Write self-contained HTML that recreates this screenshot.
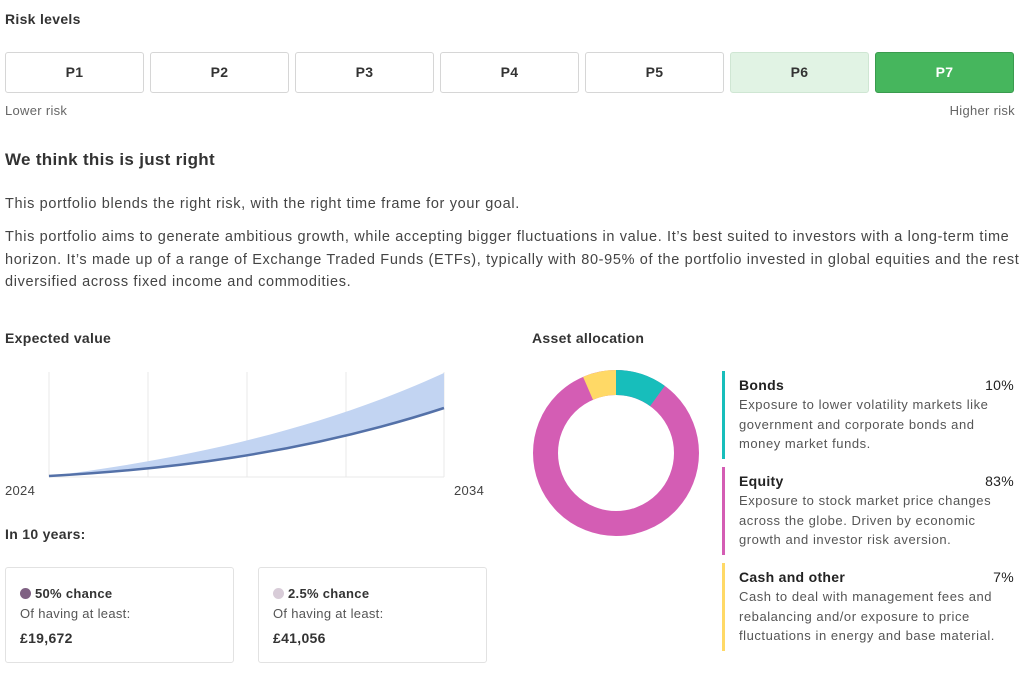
<!DOCTYPE html>
<html><head><meta charset="utf-8"><style>
*{margin:0;padding:0;box-sizing:border-box}
body{width:1024px;height:684px;background:#fff;font-family:"Liberation Sans",sans-serif;color:#333;position:relative;overflow:hidden;letter-spacing:0.3px}
.a{position:absolute;white-space:nowrap}
.btn{position:absolute;top:52px;width:139px;height:41px;border:1px solid #d6d6d6;border-radius:3px;text-align:center;line-height:39px;font-size:14px;font-weight:bold;color:#333}
.t{font-size:14.5px;color:#444;letter-spacing:0.65px}
.box{position:absolute;top:567px;width:229px;height:96px;border:1px solid #e2e2e2;border-radius:3px}
.dot{display:inline-block;width:11px;height:11px;border-radius:50%;margin-right:4px;vertical-align:-1px}
.leg{position:absolute;left:722px;width:300px;border-left:3px solid}
.leg h4{font-size:14px;font-weight:bold;color:#222;margin-left:14px;position:relative}
.leg h4 span{position:absolute;right:8px;font-weight:normal}
.leg p{font-size:13px;color:#555;line-height:19.5px;margin-left:14px;margin-top:2px;letter-spacing:0.55px}
</style></head><body>
<div class="a" style="left:5px;top:11px;font-size:14px;font-weight:bold;color:#333">Risk levels</div>
<div class="btn" style="left:5px">P1</div>
<div class="btn" style="left:150px">P2</div>
<div class="btn" style="left:295px">P3</div>
<div class="btn" style="left:440px">P4</div>
<div class="btn" style="left:585px">P5</div>
<div class="btn" style="left:730px;background:#e1f3e4;border-color:#cfe6d3">P6</div>
<div class="btn" style="left:875px;background:#46b65d;border-color:#3a9b4e;color:#fff">P7</div>
<div class="a" style="left:5px;top:103px;font-size:13px;color:#666">Lower risk</div>
<div class="a" style="right:9px;top:103px;font-size:13px;color:#666">Higher risk</div>
<div class="a" style="left:5px;top:150px;font-size:17px;font-weight:bold;color:#333">We think this is just right</div>
<div class="a t" style="left:5px;top:196px">This portfolio blends the right risk, with the right time frame for your goal.</div>
<div class="a t" style="left:5px;top:226px;line-height:22.5px">This portfolio aims to generate ambitious growth, while accepting bigger fluctuations in value. It’s best suited to investors with a long-term time<br>horizon. It’s made up of a range of Exchange Traded Funds (ETFs), typically with 80-95% of the portfolio invested in global equities and the rest<br>diversified across fixed income and commodities.</div>
<div class="a" style="left:5px;top:330px;font-size:14px;font-weight:bold">Expected value</div>
<div class="a" style="left:532px;top:330px;font-size:14px;font-weight:bold">Asset allocation</div>
<svg class="a" style="left:0;top:360px" width="500" height="130">
<g stroke="#e8e8e8" stroke-width="1"><line x1="49" y1="12" x2="49" y2="117"/><line x1="148" y1="12" x2="148" y2="117"/><line x1="247" y1="12" x2="247" y2="117"/><line x1="346" y1="12" x2="346" y2="117"/><line x1="444" y1="12" x2="444" y2="117"/><line x1="49" y1="117" x2="444" y2="117"/></g>
<path d="M49,116 C180,100 320,70 444,13 L444,48 C300,95 160,110 49,116 Z" fill="#c2d4f2"/>
<path d="M49,116 C160,110 300,95 444,48" fill="none" stroke="#5471a8" stroke-width="2.5"/>
</svg>
<div class="a" style="left:5px;top:483px;font-size:13px;color:#444">2024</div>
<div class="a" style="left:454px;top:483px;font-size:13px;color:#444">2034</div>
<div class="a" style="left:5px;top:526px;font-size:14px;font-weight:bold">In 10 years:</div>
<div class="box" style="left:5px"><div class="a" style="left:14px;top:18px;font-size:13px;font-weight:bold"><span class="dot" style="background:#7f6183"></span>50% chance</div><div class="a" style="left:14px;top:38px;font-size:13px;color:#555">Of having at least:</div><div class="a" style="left:14px;top:62px;font-size:14px;font-weight:bold">£19,672</div></div>
<div class="box" style="left:258px"><div class="a" style="left:14px;top:18px;font-size:13px;font-weight:bold"><span class="dot" style="background:#d8ccd8"></span>2.5% chance</div><div class="a" style="left:14px;top:38px;font-size:13px;color:#555">Of having at least:</div><div class="a" style="left:14px;top:62px;font-size:14px;font-weight:bold">£41,056</div></div>
<svg class="a" style="left:533px;top:370px" width="166" height="166">
<g transform="rotate(-90 83 83)" fill="none" stroke-width="25">
<circle cx="83" cy="83" r="70.5" stroke="#d45db4"/>
<circle cx="83" cy="83" r="70.5" stroke="#17bebb" stroke-dasharray="44.3 500"/>
<circle cx="83" cy="83" r="70.5" stroke="#ffd966" stroke-dasharray="0 414 31.5 500"/>
</g></svg>
<div class="leg" style="top:371px;height:88px;border-color:#17bebb"><h4 style="top:6px">Bonds<span>10%</span></h4><p style="margin-top:8px">Exposure to lower volatility markets like<br>government and corporate bonds and<br>money market funds.</p></div>
<div class="leg" style="top:467px;height:88px;border-color:#d45db4"><h4 style="top:6px">Equity<span>83%</span></h4><p style="margin-top:8px">Exposure to stock market price changes<br>across the globe. Driven by economic<br>growth and investor risk aversion.</p></div>
<div class="leg" style="top:563px;height:88px;border-color:#ffd966"><h4 style="top:6px">Cash and other<span>7%</span></h4><p style="margin-top:8px">Cash to deal with management fees and<br>rebalancing and/or exposure to price<br>fluctuations in energy and base material.</p></div>
</body></html>
